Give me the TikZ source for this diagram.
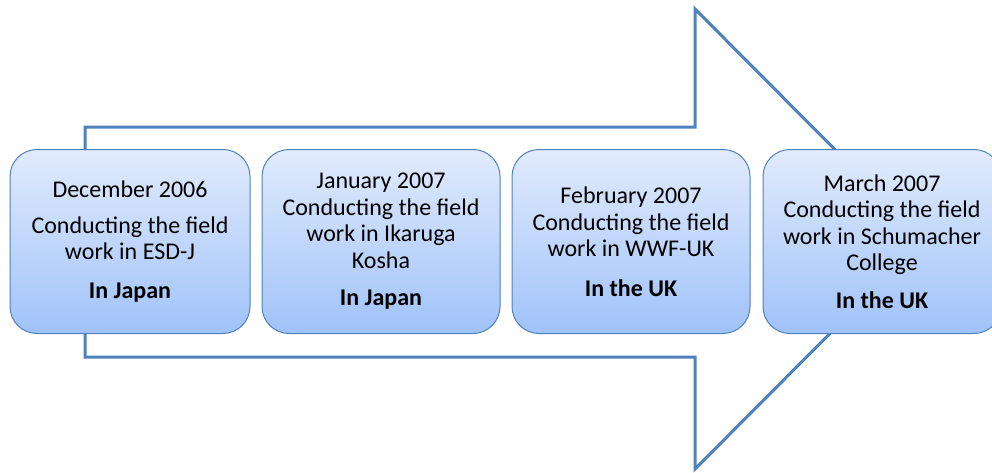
\documentclass[tikz,border=0pt]{standalone}
\usepackage{fontspec}
\setmainfont{Carlito}
\definecolor{arrowblue}{RGB}{79,129,189}
\definecolor{boxtop}{RGB}{225,235,252}
\definecolor{boxbottom}{RGB}{160,194,249}
\begin{document}
\begin{tikzpicture}[x=1pt, y=-1pt,
    stage/.style={draw=arrowblue, line width=1pt, rounded corners=27pt,
        top color=boxtop, bottom color=boxbottom,
        minimum width=238pt, minimum height=184pt, inner sep=0pt,
        align=center, font=\fontsize{24}{26.5}\selectfont}]
    \useasboundingbox (0,0) rectangle (992,472);

    % Big block arrow behind the boxes
    \draw[arrowblue, line width=3pt] (85,127) -- (695,127) -- (695,9) -- (924,239)
        -- (695,469) -- (695,357) -- (85,357) -- cycle;

    % First stage (Japan)
    \node[stage, minimum width=240pt] (dec) at (130,241.5)
        {December 2006\\[9.5pt]Conducting the field\\work in ESD-J\\[12pt]\textbf{In Japan}};

    % Second stage (Japan)
    \node[stage] (jan) at (381,241.5)
        {January 2007\\Conducting the field\\work in Ikaruga\\Kosha\\[11pt]\textbf{In Japan}};

    % Third stage (UK)
    \node[stage] (feb) at (631,241.5)
        {February 2007\\Conducting the field\\work in WWF-UK\\[13pt]\textbf{In the UK}};

    % Fourth stage (UK)
    \node[stage] (mar) at (882,241.5)
        {March 2007\\Conducting the field\\work in Schumacher\\College\\[11pt]\textbf{In the UK}};

\end{tikzpicture}
\end{document}
